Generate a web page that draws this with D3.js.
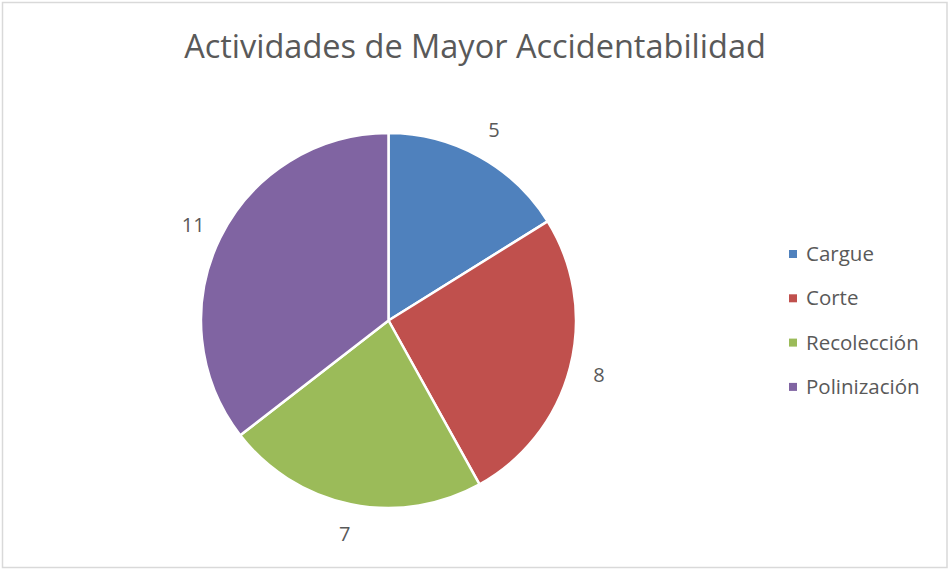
<!DOCTYPE html>
<html>
<head>
<meta charset="utf-8">
<script src="https://cdn.jsdelivr.net/npm/d3@7"></script>
<style>
  body { margin: 0; background: #fff; }
  text { font-family: "Open Sans", "Liberation Sans", sans-serif; fill: #595959; }
</style>
</head>
<body>
<div id="chart"></div>
<script>
// data
const categories = ["Cargue", "Corte", "Recolección", "Polinización"];
const values = [5, 8, 7, 11];
const colors = ["#4f81bd", "#c0504d", "#9bbb59", "#8064a2"];
const title = "Actividades de Mayor Accidentabilidad";

const width = 949, height = 571;

const svg = d3.select("#chart").append("svg")
    .attr("width", width)
    .attr("height", height);

// outer frame
svg.append("rect")
    .attr("x", 2.5).attr("y", 2.5)
    .attr("width", width - 4.5).attr("height", height - 6)
    .attr("fill", "#fff")
    .attr("stroke", "#d9d9d9")
    .attr("stroke-width", 1.5);

svg.append("text")
    .attr("x", 475).attr("y", 58)
    .attr("text-anchor", "middle")
    .style("font-size", "32.5px")
    .text(title);

const cx = 388.5, cy = 320.5, r = 187.5;
const data = categories.map((c, i) => ({ name: c, value: values[i], color: colors[i] }));

const pie = d3.pie().sort(null).value(d => d.value);
const arc = d3.arc().innerRadius(0).outerRadius(r);
const labelArc = d3.arc().innerRadius(r + 30).outerRadius(r + 30);

const g = svg.append("g").attr("transform", `translate(${cx},${cy})`);

const arcs = pie(data);

g.selectAll("path")
    .data(arcs)
    .join("path")
    .attr("d", arc)
    .attr("fill", d => d.data.color)
    .attr("stroke", "#fff")
    .attr("stroke-width", 2.5)
    .attr("stroke-linejoin", "round");

g.selectAll("text.lbl")
    .data(arcs)
    .join("text")
    .attr("class", "lbl")
    .attr("transform", d => `translate(${labelArc.centroid(d)})`)
    .attr("text-anchor", "middle")
    .attr("dy", "0.35em")
    .style("font-size", "20px")
    .text(d => d.data.value);

// legend
const legend = svg.append("g").attr("transform", "translate(789,254)");
const row = legend.selectAll("g")
    .data(data)
    .join("g")
    .attr("transform", (d, i) => `translate(0,${i * 44.3})`);

row.append("rect")
    .attr("x", 0).attr("y", -4)
    .attr("width", 8).attr("height", 8)
    .attr("fill", d => d.color);

row.append("text")
    .attr("x", 17)
    .attr("dy", "0.35em")
    .style("font-size", "20.5px")
    .text(d => d.name);
</script>
</body>
</html>
